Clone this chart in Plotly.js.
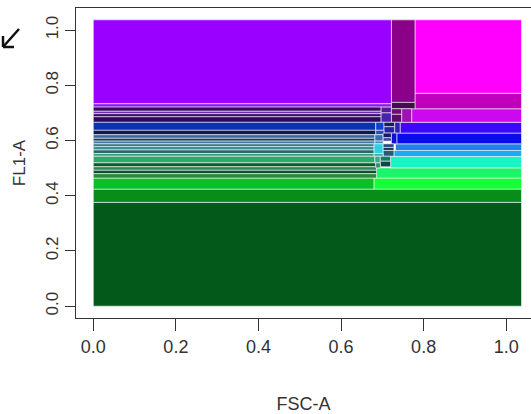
<!DOCTYPE html>
<html>
<head>
<meta charset="utf-8">
<script src="https://cdn.plot.ly/plotly-3.0.1.min.js"></script>
<style>html,body{margin:0;padding:0;background:#fff;overflow:hidden}#chart{width:531px;height:414px}</style>
</head>
<body>
<div id="chart"></div>
<script>
// Partition rectangles (data units): left, right, bottom, top, fill colour
const rx0 = [0, 0, 0, 0.680, 0.686, 0.720, 0.728, 0.732, 0.735, 0.743, 0.771, 0.779, 0.779, 0.722, 0.722, 0, 0,
  0, 0, 0, 0, 0.697, 0.697, 0.722, 0.722, 0.747,
  0, 0, 0, 0, 0, 0, 0, 0, 0, 0, 0, 0, 0, 0,
  0.684, 0.704, 0.704, 0.730, 0.684, 0.682, 0.702, 0.702, 0.722, 0.682,
  0.680, 0.702, 0.702, 0.702, 0.680, 0.682, 0.695, 0.695, 0.684];
const rx1 = [1.037, 1.037, 0.680, 1.037, 1.037, 1.037, 1.037, 1.037, 1.037, 1.037, 1.037, 1.037, 1.037, 0.779, 0.779, 0.722, 0.722,
  0.697, 0.697, 0.697, 0.697, 0.722, 0.722, 0.747, 0.747, 0.771,
  0.684, 0.684, 0.682, 0.682, 0.682, 0.680, 0.680, 0.680, 0.680, 0.682, 0.684, 0.686, 0.686, 0.686,
  0.704, 0.730, 0.730, 0.743, 0.704, 0.702, 0.722, 0.722, 0.735, 0.702,
  0.702, 0.728, 0.728, 0.728, 0.702, 0.695, 0.720, 0.720, 0.695];
const ry0 = [0, 0.376, 0.424, 0.424, 0.464, 0.501, 0.542, 0.564, 0.588, 0.627, 0.666, 0.715, 0.771, 0.738, 0.715, 0.733, 0.721,
  0.706, 0.697, 0.686, 0.666, 0.700, 0.666, 0.695, 0.666, 0.666,
  0.637, 0.621, 0.608, 0.598, 0.588, 0.578, 0.566, 0.553, 0.543, 0.519, 0.505, 0.492, 0.480, 0.464,
  0.637, 0.650, 0.627, 0.627, 0.621, 0.598, 0.610, 0.598, 0.588, 0.588,
  0.553, 0.575, 0.564, 0.543, 0.543, 0.519, 0.525, 0.505, 0.501];
const ry1 = [0.376, 0.424, 0.464, 0.464, 0.501, 0.542, 0.564, 0.588, 0.627, 0.666, 0.715, 0.771, 1.037, 1.037, 0.738, 1.037, 0.733,
  0.721, 0.706, 0.697, 0.686, 0.721, 0.700, 0.715, 0.695, 0.715,
  0.666, 0.637, 0.621, 0.608, 0.598, 0.588, 0.578, 0.566, 0.553, 0.543, 0.519, 0.505, 0.492, 0.480,
  0.666, 0.666, 0.650, 0.666, 0.637, 0.621, 0.627, 0.610, 0.627, 0.598,
  0.588, 0.588, 0.575, 0.564, 0.553, 0.543, 0.543, 0.525, 0.519];
const rcol = ['#03591A', '#088C1A', '#0BC024', '#14FF38', '#1EF46A', '#18F5C5', '#22A8F0', '#1E80E8', '#0A0AEE', '#3C08FA', '#CC08F0', '#C000BC', '#FF00FF', '#8A0088', '#4A0858', '#9900FF', '#8A1AE0',
  '#3A0A62', '#6A2AB8', '#3A0A62', '#2A0A5C', '#5A1AA0', '#4A22B0', '#6A0C74', '#580A6A', '#A010B4',
  '#0A32B4', '#0A1A52', '#3A6A9C', '#1A3A5C', '#4A7A9E', '#3A7A8C', '#3C8A8C', '#2A6A6C', '#3A9A80', '#2CAA6E', '#0A5A2E', '#2A8A4E', '#0A5230', '#2A8A3E',
  '#1040D4', '#1A1A62', '#2424A0', '#3020B4', '#2050C0', '#3A70B8', '#1A1A6A', '#3A4A90', '#1010D4', '#4A88B0',
  '#30D0E4', '#2A4A7A', '#1A3A5A', '#2A5A7A', '#40A0B0', '#3AAA8A', '#1A7A6A', '#0A4A4A', '#2A8A6A'];

const tickVals = [0, 0.2, 0.4, 0.6, 0.8, 1.0];
const tickText = ['0.0', '0.2', '0.4', '0.6', '0.8', '1.0'];

const traces = rx0.map((x0, i) => ({
  type: 'scatter', mode: 'lines', fill: 'toself',
  x: [x0, rx1[i], rx1[i], x0, x0],
  y: [ry0[i], ry0[i], ry1[i], ry1[i], ry0[i]],
  fillcolor: rcol[i],
  line: {color: 'rgba(255,255,255,0.55)', width: 1},
  hoverinfo: 'skip', showlegend: false
}));

const W = 531, H = 414, ML = 76, MT = 8, MB = 96;
const px = v => (v - ML) / (W - ML);
const py = v => (H - MB - v) / (H - MB - MT);
const arrowShapes = [
  [19, 29, 3, 47], [3, 47, 3, 36], [3, 47, 14, 47]
].map(s => ({type: 'line', xref: 'paper', yref: 'paper', x0: px(s[0]), y0: py(s[1]), x1: px(s[2]), y1: py(s[3]),
  line: {color: '#111', width: 2.5}}));

const axisFont = {family: 'Liberation Sans Narrow, Liberation Sans, Arial, sans-serif', size: 18, color: '#333'};
const layout = {
  width: W, height: H,
  margin: {l: ML, r: 0, t: MT, b: MB, pad: 0},
  paper_bgcolor: '#fff', plot_bgcolor: '#fff',
  showlegend: false,
  xaxis: {
    range: [-0.0419, 1.06], tickvals: tickVals, ticktext: tickText,
    showgrid: false, zeroline: false, showline: true, mirror: true, linecolor: '#333', linewidth: 1,
    ticks: 'outside', ticklen: 12, tickcolor: '#333', tickwidth: 1,
    tickfont: axisFont, automargin: false,
    title: {text: 'FSC-A', font: axisFont, standoff: 44}
  },
  yaxis: {
    range: [-0.0428, 1.08], tickvals: tickVals, ticktext: tickText, tickangle: -90,
    showgrid: false, zeroline: false, showline: true, mirror: false, linecolor: '#333', linewidth: 1,
    ticks: 'outside', ticklen: 10, tickcolor: '#333', tickwidth: 1,
    tickfont: {family: 'Liberation Sans, Arial, sans-serif', size: 17, color: '#333'}, automargin: false,
    title: {text: 'FL1-A', font: {family: 'Liberation Sans, Arial, sans-serif', size: 17, color: '#333'}, standoff: 13}
  },
  shapes: arrowShapes
};
Plotly.newPlot('chart', traces, layout, {staticPlot: true, displayModeBar: false});
</script>
</body>
</html>
